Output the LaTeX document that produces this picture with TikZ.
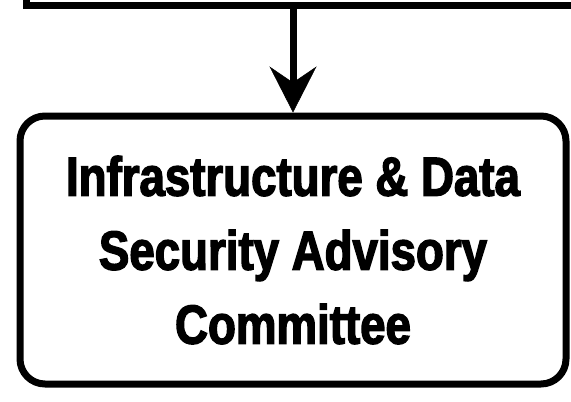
\documentclass[tikz,border=0pt]{standalone}
\usepackage{fontspec}
\newfontfamily\committeefont{Liberation Sans}[FakeStretch=0.83,BoldFeatures={FakeBold=2.5}]
\usetikzlibrary{positioning,arrows.meta}
\tikzset{
    org top/.style={
        rectangle,
        draw=black,
        line width=7pt,
        minimum width=700pt,
        minimum height=100pt,
        outer sep=0pt,
    },
    org box/.style={
        rectangle,
        draw=black,
        line width=7pt,
        rounded corners=25pt,
        minimum width=546pt,
        minimum height=268pt,
        inner sep=0pt,
        align=center,
        font=\committeefont\bfseries\fontsize{55}{74}\selectfont,
    },
    org arrow/.style={line width=7pt,-{Stealth[length=46pt,width=47pt,inset=16pt,line width=0.5pt]}}
}

\begin{document}
\begin{tikzpicture}[x=1pt,y=-1pt]
\useasboundingbox (0,0) rectangle (571,402);

%Upper box, cut off by the page
\node[org top, anchor=south west] (board) at (26,5) {};

\node[org box] (committee) at (293,250) {Infrastructure \& Data\\Security Advisory\\Committee};

\draw[org arrow] (committee.north |- board.south) -- (committee.north);

\end{tikzpicture}
\end{document}
